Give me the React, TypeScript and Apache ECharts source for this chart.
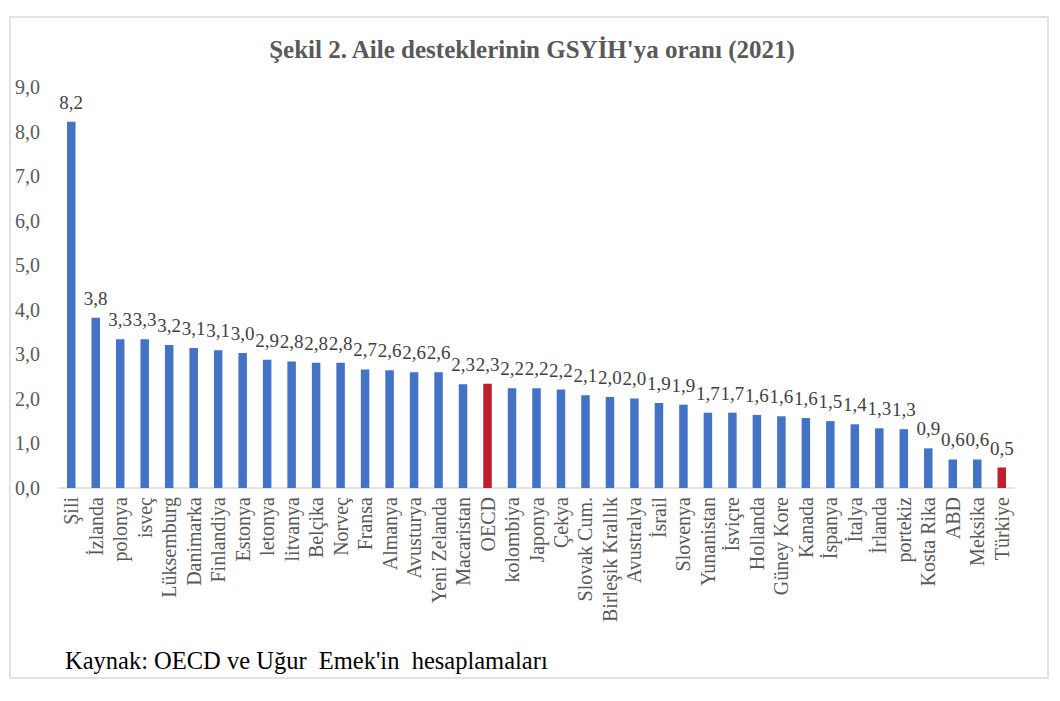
import React, { useEffect, useRef } from "react";
import * as echarts from "echarts";

const categories: string[] = [
  "Şili", "İzlanda", "polonya", "isveç", "Lüksemburg", "Danimarka", "Finlandiya", "Estonya",
  "letonya", "litvanya", "Belçika", "Norveç", "Fransa", "Almanya", "Avusturya", "Yeni Zelanda",
  "Macaristan", "OECD", "kolombiya", "Japonya", "Çekya", "Slovak Cum.", "Birleşik Krallık",
  "Avustralya", "İsrail", "Slovenya", "Yunanistan", "İsviçre", "Hollanda", "Güney Kore",
  "Kanada", "İspanya", "İtalya", "İrlanda", "portekiz", "Kosta Rika", "ABD", "Meksika", "Türkiye",
];

const values: number[] = [
  8.22, 3.82, 3.34, 3.34, 3.21, 3.14, 3.09, 3.03,
  2.88, 2.84, 2.81, 2.81, 2.66, 2.64, 2.6, 2.6,
  2.33, 2.34, 2.24, 2.24, 2.21, 2.08, 2.04,
  2.01, 1.91, 1.87, 1.69, 1.69, 1.64, 1.61,
  1.57, 1.5, 1.43, 1.34, 1.32, 0.89, 0.64, 0.64, 0.46,
];

const highlighted: string[] = ["OECD", "Türkiye"];

const yTicks = { min: 0, max: 9, interval: 1 };

const titleText = "Şekil 2. Aile desteklerinin GSYİH'ya oranı (2021)";
const sourceText = "Kaynak: OECD ve Uğur  Emek'in  hesaplamaları";

const BLUE = "#4472C4";
const RED = "#BE1E2D";
const FONT = "Liberation Serif";

const fmt = (v: number) => v.toFixed(1).replace(".", ",");

export default function App() {
  const ref = useRef<HTMLDivElement>(null);
  useEffect(() => {
    if (!ref.current) return;
    const chart = echarts.init(ref.current, undefined, { renderer: "svg" });
    chart.setOption({
      animation: false,
      backgroundColor: "#ffffff",
      textStyle: { fontFamily: FONT },
      grid: { left: 59, right: 46, top: 87, bottom: 213, containLabel: false },
      xAxis: {
        type: "category",
        data: categories,
        axisTick: { show: false },
        axisLine: { lineStyle: { color: "#d9d9d9", width: 1.5 } },
        axisLabel: {
          interval: 0,
          rotate: 90,
          margin: 9,
          fontFamily: FONT,
          fontSize: 20,
          color: "#595959",
        },
      },
      yAxis: {
        type: "value",
        min: yTicks.min,
        max: yTicks.max,
        interval: yTicks.interval,
        splitLine: { show: false },
        axisLine: { show: false },
        axisTick: { show: false },
        axisLabel: {
          margin: 19,
          fontFamily: FONT,
          fontSize: 20,
          color: "#595959",
          formatter: (v: number) => fmt(v),
        },
      },
      series: [
        {
          type: "bar",
          barWidth: 8.5,
          data: values.map((v, i) => ({
            value: v,
            itemStyle: { color: highlighted.includes(categories[i]) ? RED : BLUE },
          })),
          label: {
            show: true,
            position: "top",
            distance: 10,
            fontFamily: FONT,
            fontSize: 19,
            color: "#404040",
            formatter: (p: any) => fmt(p.value),
          },
        },
      ],
      graphic: [
        {
          type: "rect",
          shape: { x: 10, y: 17, width: 1038, height: 661 },
          style: { fill: "none", stroke: "#d9d9d9", lineWidth: 1.5 },
          silent: true,
          z: -1,
        },
        {
          type: "text",
          x: 532,
          y: 37,
          style: {
            text: titleText,
            font: "bold 25px Liberation Serif",
            fill: "#595959",
            align: "center",
            verticalAlign: "top",
          },
        },
        {
          type: "text",
          left: 65,
          top: 648,
          style: { text: sourceText, font: "normal 24.5px Liberation Serif", fill: "#000000" },
        },
      ],
    });
    return () => chart.dispose();
  }, []);
  return (
    <div
      ref={ref}
      style={{ position: "absolute", left: 0, top: 0, width: 1060, height: 701 }}
    />
  );
}
